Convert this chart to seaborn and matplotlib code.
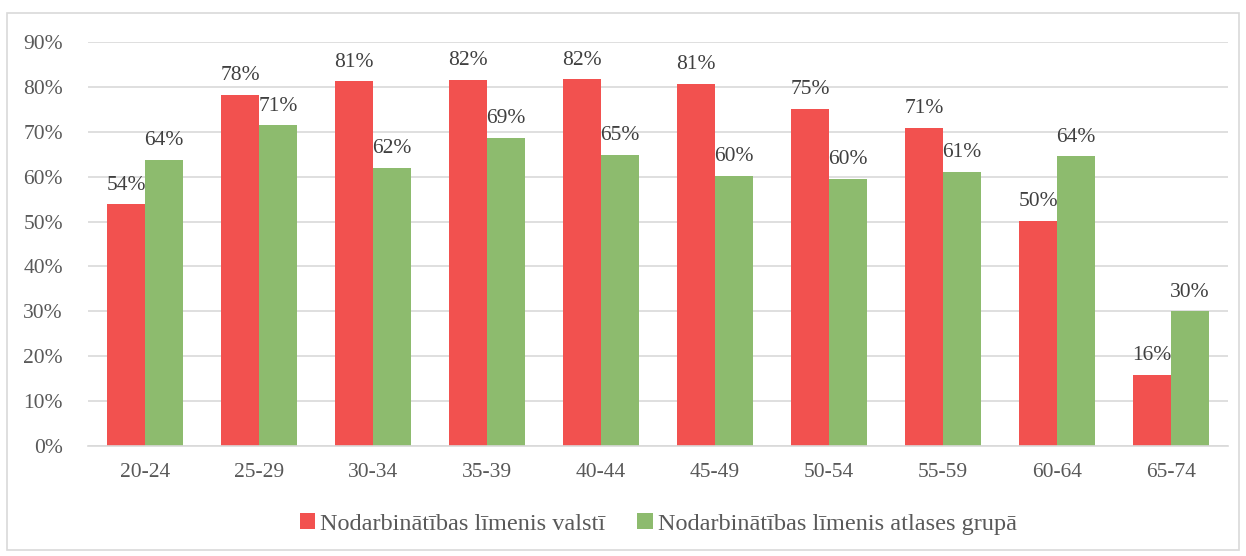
import matplotlib
matplotlib.use("Agg")
import matplotlib.pyplot as plt
import seaborn as sns
import pandas as pd
from matplotlib.patches import Rectangle
from matplotlib.ticker import PercentFormatter

categories = ["20-24", "25-29", "30-34", "35-39", "40-44", "45-49", "50-54", "55-59", "60-64", "65-74"]
valsti = [53.8, 78.2, 81.2, 81.5, 81.7, 80.6, 75.1, 70.8, 50.1, 15.8]
atlases = [63.7, 71.4, 61.9, 68.6, 64.8, 60.1, 59.5, 61.0, 64.5, 30.0]
series_names = ["Nodarbinātības līmenis valstī", "Nodarbinātības līmenis atlases grupā"]
colors = ["#F2514F", "#8DBB6E"]

df = pd.DataFrame({
    "cat": categories * 2,
    "val": [v / 100 for v in valsti] + [v / 100 for v in atlases],
    "series": [series_names[0]] * len(categories) + [series_names[1]] * len(categories),
})

sns.set_style("white")
plt.rcParams["font.family"] = ["Liberation Serif", "DejaVu Serif"]
text_color = "#595959"

fig = plt.figure(figsize=(12.46, 5.56), dpi=100)
ax = fig.add_axes([0.0706, 0.198, 0.915, 0.7265])

sns.barplot(data=df, x="cat", y="val", hue="series", palette=colors,
            width=0.667, saturation=1, ax=ax, legend=True, linewidth=0)

ax.set_ylim(0, 0.9)
ax.set_yticks([i / 10 for i in range(10)])
ax.yaxis.set_major_formatter(PercentFormatter(1.0, decimals=0))
ax.grid(axis="y", color="#D9D9D9", linewidth=1.2)
ax.set_axisbelow(True)
for s in ["top", "right", "left"]:
    ax.spines[s].set_visible(False)
ax.spines["bottom"].set_color("#D9D9D9")
ax.spines["bottom"].set_linewidth(1.2)
ax.tick_params(axis="y", length=0, labelsize=15.5, colors=text_color, pad=18)
ax.tick_params(axis="x", length=0, labelsize=15.5, colors=text_color, pad=12)
ax.set_xlabel("")
ax.set_ylabel("")

for cont in ax.containers:
    for bar in cont:
        h = bar.get_height()
        ax.annotate(f"{round(h * 100):.0f}%", (bar.get_x() + bar.get_width() / 2, h),
                    xytext=(0, 7), textcoords="offset points", ha="center", va="bottom",
                    fontsize=15.5, color="#404040")

leg = ax.legend(loc="center", bbox_to_anchor=(0.5, -0.193), ncol=2, frameon=False,
                fontsize=17.5, handlelength=0.65, handleheight=0.65, handletextpad=0.2,
                columnspacing=1.3)
for t in leg.get_texts():
    t.set_color(text_color)

fig.patches.append(Rectangle((0.006, 0.01), 0.988, 0.966, transform=fig.transFigure,
                             fill=False, edgecolor="#D9D9D9", linewidth=1.2))

fig.savefig("out.png", dpi=100)
